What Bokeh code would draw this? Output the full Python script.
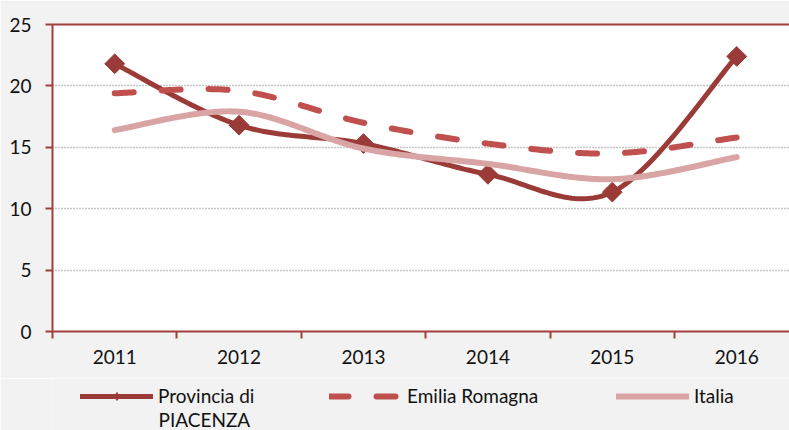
import numpy as np
from bokeh.plotting import figure
from bokeh.layouts import column
from bokeh.models import Range1d, FixedTicker, LinearAxis, Legend, LegendItem, Label
from bokeh.embed import file_html
from bokeh.resources import INLINE

# ---- data ----
years = ["2011", "2012", "2013", "2014", "2015", "2016"]
piacenza = [21.8, 16.8, 15.3, 12.8, 11.35, 22.4]
emilia = [19.4, 19.6, 17.0, 15.3, 14.5, 15.8]
italia = [16.4, 17.9, 14.9, 13.65, 12.4, 14.2]
y_ticks = [0, 5, 10, 15, 20, 25]
series_names = ["Provincia di", "Emilia Romagna", "Italia"]
name_second_line = "PIACENZA"

xs = list(range(1, len(years) + 1))

C_PIA = "#9b3b38"
C_EMI = "#c0504d"
C_ITA = "#d9a5a4"
C_AXIS = "#a0403c"
C_BG = "#f2f2f2"
FONT = "Lato"
FSIZE = "19px"
TXT = "#111111"


def smooth(x, y, n=40):
    """Excel-like smoothed line (cubic Bezier through the points) for drawing."""
    pts = list(zip(x, y))
    ox, oy = [], []
    m = len(pts)
    for i in range(m - 1):
        p0 = pts[i - 1] if i > 0 else pts[i]
        p1 = pts[i]
        p2 = pts[i + 1]
        p3 = pts[i + 2] if i + 2 < m else pts[i + 1]
        c1 = (p1[0] + (p2[0] - p0[0]) / 6.0, p1[1] + (p2[1] - p0[1]) / 6.0)
        c2 = (p2[0] - (p3[0] - p1[0]) / 6.0, p2[1] - (p3[1] - p1[1]) / 6.0)
        t = np.linspace(0, 1, n, endpoint=(i == m - 2))
        a = (1 - t) ** 3
        b = 3 * (1 - t) ** 2 * t
        c = 3 * (1 - t) * t ** 2
        d = t ** 3
        ox.extend(a * p1[0] + b * c1[0] + c * c2[0] + d * p2[0])
        oy.extend(a * p1[1] + b * c1[1] + c * c2[1] + d * p2[1])
    return ox, oy


W = 789
LEFT = 52
band_px = 124.4
frame_w = W - LEFT
p = figure(
    width=W, height=378,
    x_range=Range1d(0.5, 0.5 + frame_w / band_px),
    y_range=Range1d(0, 25),
    output_backend="svg", toolbar_location=None,
    min_border_left=LEFT, min_border_right=0, min_border_top=24, min_border_bottom=47,
    background_fill_color="white", border_fill_color=C_BG,
    outline_line_color=None,
)

# grid
p.xgrid.visible = False
p.ygrid.ticker = FixedTicker(ticks=y_ticks)
p.ygrid.grid_line_color = "#8f8f8f"
p.ygrid.grid_line_width = 1.3
p.ygrid.grid_line_dash = "1 2"

# y axis
ya = p.yaxis[0]
ya.ticker = FixedTicker(ticks=y_ticks)
ya.axis_line_color = C_AXIS
ya.axis_line_width = 2
ya.major_tick_line_color = C_AXIS
ya.major_tick_line_width = 2
ya.major_tick_out = 7
ya.major_tick_in = 0
ya.minor_tick_line_color = None
ya.major_label_standoff = 14
ya.major_label_text_font = FONT
ya.major_label_text_font_size = FSIZE
ya.major_label_text_color = TXT

# x axis
xa = p.xaxis[0]
xa.ticker = FixedTicker(ticks=xs, minor_ticks=[v - 0.5 for v in xs] + [xs[-1] + 0.5])
xa.major_label_overrides = {v: lab for v, lab in zip(xs, years)}
xa.axis_line_color = C_AXIS
xa.axis_line_width = 2
xa.major_tick_line_color = None
xa.major_tick_out = 6
xa.major_tick_in = 0
xa.minor_tick_line_color = C_AXIS
xa.minor_tick_line_width = 2
xa.minor_tick_out = 7
xa.minor_tick_in = 0
xa.major_label_standoff = 11
xa.major_label_text_font = FONT
xa.major_label_text_font_size = FSIZE
xa.major_label_text_color = TXT

# top border
top = LinearAxis(ticker=FixedTicker(ticks=[]), axis_line_color=C_AXIS, axis_line_width=2,
                 major_tick_line_color=None, minor_tick_line_color=None,
                 major_label_text_font_size="0px")
p.add_layout(top, "above")

# series
line_styles = [
    dict(line_color=C_PIA, line_width=5, line_cap="round", line_join="round"),
    dict(line_color=C_EMI, line_width=6, line_cap="round", line_join="round", line_dash="19 28"),
    dict(line_color=C_ITA, line_width=6, line_cap="round", line_join="round"),
]
marker_style = dict(marker="square", angle=np.pi / 4, size=14, fill_color=C_PIA, line_color=C_PIA)

sx, sy = smooth(xs, piacenza)
p.line(sx, sy, **line_styles[0])
p.scatter(xs, piacenza, **marker_style)
ex, ey = smooth(xs, emilia)
p.line(ex, ey, **line_styles[1])
ix, iy = smooth(xs, italia)
p.line(ix, iy, **line_styles[2])

# ---- legend strip (same frame alignment as the chart; its data lies outside the view) ----
lg = figure(
    width=W, height=52, x_range=Range1d(-20, -10), y_range=Range1d(-20, -10),
    output_backend="svg", toolbar_location=None,
    min_border_left=LEFT, min_border_right=0, min_border_top=0, min_border_bottom=0,
    background_fill_color=C_BG, border_fill_color=C_BG, outline_line_color=None,
)
lg.axis.visible = False
lg.grid.visible = False
lr1 = lg.line(xs, piacenza, **line_styles[0])
lm1 = lg.scatter(xs, piacenza, marker="diamond", size=14, fill_color=C_PIA, line_color=C_PIA)
lr2 = lg.line(xs, emilia, **line_styles[1])
lr3 = lg.line(xs, italia, **line_styles[2])


def make_legend(label, renderers, x):
    return Legend(
        items=[LegendItem(label=label, renderers=renderers)],
        location=(x - LEFT, 23), orientation="horizontal",
        background_fill_alpha=0, border_line_color=None,
        padding=0, margin=0, spacing=0,
        glyph_width=73, glyph_height=20, label_height=20, label_standoff=5,
        label_text_font=FONT, label_text_font_size=FSIZE, label_text_color=TXT,
    )


lg.add_layout(make_legend(series_names[0], [lr1, lm1], 80))
lg.add_layout(make_legend(series_names[1], [lr2], 329))
lg.add_layout(make_legend(series_names[2], [lr3], 616))
lg.add_layout(Label(x=158 - LEFT, y=11, x_units="screen", y_units="screen", text=name_second_line,
                    text_font=FONT, text_font_size=FSIZE, text_baseline="middle",
                    text_color=TXT))

open("out.html", "w").write(file_html(column(p, lg, spacing=0), INLINE))
